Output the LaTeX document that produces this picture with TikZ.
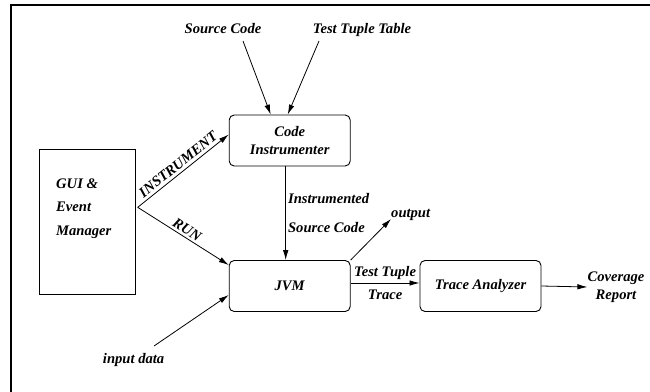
\documentclass[tikz,border=0pt]{standalone}
\usepackage{fontspec}
\setmainfont{Liberation Serif}
\usetikzlibrary{arrows.meta}

\begin{document}
\begin{tikzpicture}[x=1pt,y=1pt]
\tikzstyle{every node}+=[inner sep=0pt, font=\fontsize{14.6}{17.5}\selectfont\bfseries\itshape]
\tikzstyle{proc}=[draw=black, line width=0.9pt, rounded corners=5pt, minimum width=121pt, minimum height=51pt, align=center]
\tikzstyle{arr}=[-{Latex[length=10pt,width=5.5pt]}, line width=0.8pt]
\useasboundingbox (0,0) rectangle (650,-391);
\draw [black, line width=1.5pt] (11,-5) rectangle (660,-400);
\node [proc] (ci) at (289.7,-140.5) {Code\\Instrumenter};
\node [proc] (jvm) at (289.7,-286) {JVM};
\node [proc] (ta) at (480.5,-286) {Trace Analyzer};
\node [draw=black, line width=0.9pt, minimum width=96pt, minimum height=145pt] (gui) at (87.5,-221.5) {};
\node [anchor=west, align=left] (guitxt) at (56,-208.5) {GUI \&\\[6pt]Event\\[6pt]Manager};
\node [anchor=base] (src) at (223,-33.5) {Source Code};
\node [anchor=base] (ttt) at (362,-33.5) {Test Tuple Table};
\node [anchor=base] (inp) at (133.6,-363.5) {input data};
\node [anchor=base west] (out) at (391,-217) {output};
\node [align=center] (cov) at (616,-287) {Coverage\\Report};
\coordinate (fork) at (137.7,-207.3);
\draw [arr] ([xshift=20pt,yshift=-7.5pt]src.base) -- ([xshift=-19pt]ci.north);
\draw [arr] ([xshift=-43pt,yshift=-7.5pt]ttt.base) -- ([xshift=-2pt]ci.north);
\draw [arr] (fork) -- node[above, sloped, yshift=3pt] {INSTRUMENT} ([yshift=6pt]ci.west);
\draw [arr] (fork) -- node[above, sloped, yshift=2pt] {RUN} ([yshift=-5pt]jvm.north west);
\draw [arr] ([xshift=-4pt]ci.south) -- node[right, align=left, xshift=2pt] {Instrumented\\[11.5pt]Source Code} ([xshift=-4pt]jvm.north);
\draw [arr] (jvm.north east) -- ([yshift=-2pt]out.base west);
\draw [arr] ([yshift=3pt]jvm.east) -- node[above, yshift=3pt] {Test Tuple} node[below, yshift=-7pt] {Trace} ([yshift=3pt]ta.west);
\draw [arr] (ta.east) -- (cov.west);
\draw [arr] ([xshift=20.4pt,yshift=17.5pt]inp.base) -- ([yshift=-9pt]jvm.west);
\end{tikzpicture}
\end{document}
